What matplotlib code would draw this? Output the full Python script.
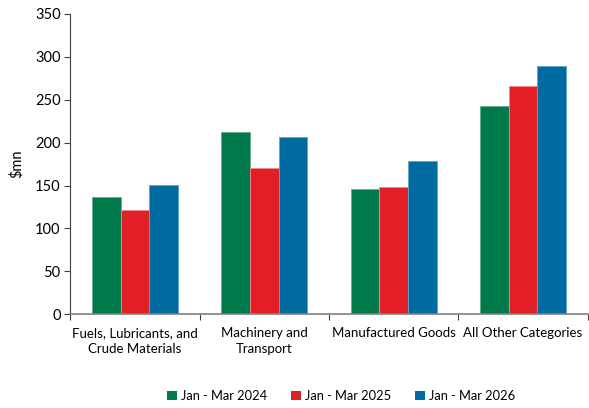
import matplotlib
matplotlib.use("Agg")
import matplotlib.pyplot as plt
import numpy as np
from matplotlib.patches import Patch

plt.rcParams["font.family"] = ["Lato", "DejaVu Sans"]

categories = ["Fuels, Lubricants, and\nCrude Materials", "Machinery and\nTransport",
              "Manufactured Goods", "All Other Categories"]
series_names = ["Jan - Mar 2024", "Jan - Mar 2025", "Jan - Mar 2026"]
values_2024 = [137, 212, 146, 243]
values_2025 = [122, 170, 148, 266]
values_2026 = [151, 207, 179, 289]
y_ticks = [0, 50, 100, 150, 200, 250, 300, 350]

colors = ["#007A4B", "#E21E26", "#006BA1"]
edges = ["#5FAE8E", "#F08A8E", "#5FA3CC"]

fig = plt.figure(figsize=(5.89, 4.08), dpi=100)
ax = fig.add_axes([0.1194, 0.2297, 0.8784, 0.736])

x = np.arange(len(categories))
w = 1 / 4.5
for i, (vals, c, e, name) in enumerate(zip([values_2024, values_2025, values_2026],
                                           colors, edges, series_names)):
    ax.bar(x + (i - 1) * w, vals, width=w, color=c, edgecolor=e, linewidth=0.6,
           label=name, zorder=2)

ax.set_xlim(-0.5, len(categories) - 0.5)
ax.set_ylim(0, 350)
ax.set_yticks(y_ticks)
ax.tick_params(axis="y", labelsize=10.5, length=4, width=0.8, color="#404040", pad=3)
ax.set_xticks(x)
ax.set_xticklabels(categories, fontsize=9.5, linespacing=1.35)
ax.tick_params(axis="x", length=0, pad=9.5)
ax.set_xticks(np.arange(-0.5, len(categories), 1), minor=True)
ax.tick_params(axis="x", which="minor", length=4, width=0.8, color="#404040")

for s in ["top", "right"]:
    ax.spines[s].set_visible(False)
ax.spines["left"].set_color("#404040")
ax.spines["bottom"].set_color("#808080")
ax.spines["left"].set_linewidth(0.8)
ax.spines["bottom"].set_linewidth(1.2)

ax.set_ylabel("$mn", fontsize=10.5)
ax.yaxis.set_label_coords(-0.09, 0.5)

handles = [Patch(facecolor=c, edgecolor="none") for c in colors]
fig.legend(handles, series_names, loc="center", bbox_to_anchor=(0.579, 0.029),
           ncol=3, frameon=False, fontsize=9.3, handlelength=0.75, handleheight=0.75,
           handletextpad=0.3, columnspacing=1.9)

fig.savefig("out.png", dpi=100)
